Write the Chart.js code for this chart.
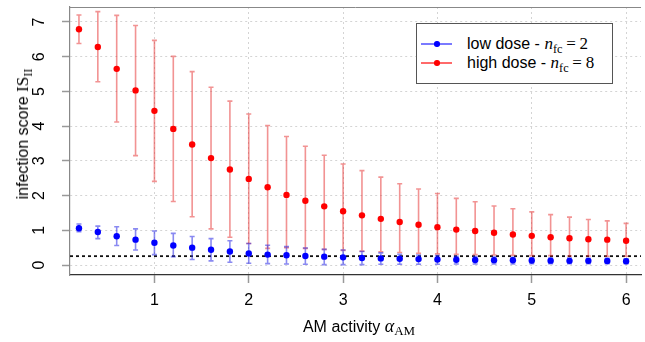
<!DOCTYPE html>
<html>
<head>
<meta charset="utf-8">
<script src="https://cdn.jsdelivr.net/npm/chart.js@4.4.1/dist/chart.umd.min.js"></script>
<style>
  body { margin: 0; background: #fff; }
  #wrap { position: relative; width: 645px; height: 342px; font-family: "Liberation Sans", Arial, sans-serif; color: #000; overflow: hidden; }
  #wrap canvas { position: absolute; left: 0; top: 0; }
  .m { font-family: "Liberation Serif", "DejaVu Serif", serif; }
  sub { font-size: 72%; vertical-align: -0.3em; line-height: 0; }
  .eq { padding: 0 0.22em; }
  #ytitle { position: absolute; left: 22.5px; top: 133.5px; font-size: 16px; white-space: nowrap; transform: translate(-50%, -50%) rotate(-90deg); }
  #ytitle .m { font-size: 17px; }
  #xtitle { position: absolute; left: 359px; top: 326px; font-size: 16px; white-space: nowrap; transform: translate(-50%, -50%); }
  #xtitle .m { font-size: 18px; }
  #legend { position: absolute; left: 416px; top: 23px; width: 195px; height: 59px; border: 1px solid #555; background: #fff; font-size: 16px; }
  #legend .m { font-size: 17px; }
  .row { position: absolute; left: 0; width: 100%; height: 18px; line-height: 18px; }
  .swatch { position: absolute; left: 4px; top: 8px; width: 31px; height: 1.5px; }
  .dot { position: absolute; left: 13px; top: -2px; width: 5.5px; height: 5.5px; border-radius: 50%; }
  .txt { position: absolute; left: 50px; top: 0; white-space: nowrap; }
</style>
</head>
<body>
<div id="wrap">
  <canvas id="grafico" width="645" height="342"></canvas>
  <div id="ytitle">infection score <span class="m">IS<sub>II</sub></span></div>
  <div id="xtitle">AM activity <span class="m"><i>α</i><sub>AM</sub></span></div>
  <div id="legend"></div>
</div>
<script>
// valores
const atividade = [0.2, 0.4, 0.6, 0.8, 1.0, 1.2, 1.4, 1.6, 1.8, 2.0, 2.2, 2.4, 2.6, 2.8, 3.0,
                   3.2, 3.4, 3.6, 3.8, 4.0, 4.2, 4.4, 4.6, 4.8, 5.0, 5.2, 5.4, 5.6, 5.8, 6.0];

const baixaMedia = [1.06, 0.95, 0.83, 0.73, 0.64, 0.56, 0.50, 0.44, 0.39, 0.33, 0.30, 0.28, 0.26, 0.24, 0.22,
                    0.20, 0.19, 0.18, 0.17, 0.16, 0.15, 0.145, 0.14, 0.135, 0.13, 0.125, 0.12, 0.12, 0.115, 0.11];
const baixaMax = [1.18, 1.12, 1.10, 1.04, 0.98, 0.91, 0.82, 0.76, 0.70, 0.62, 0.57, 0.53, 0.49, 0.45, 0.43,
                  0.39, 0.35, 0.31, 0.29, 0.27, 0.25, 0.24, 0.23, 0.22, 0.21, 0.20, 0.20, 0.19, 0.19, 0.18];
const baixaMin = [0.96, 0.76, 0.56, 0.43, 0.30, 0.24, 0.16, 0.12, 0.08, 0.05, 0.04, 0.03, 0.02, 0.01, 0.01,
                  0.01, 0.02, 0.02, 0.02, 0.02, 0.03, 0.03, 0.03, 0.03, 0.04, 0.04, 0.04, 0.04, 0.04, 0.04];

const altaMedia = [6.79, 6.28, 5.65, 5.03, 4.44, 3.92, 3.47, 3.08, 2.75, 2.48, 2.24, 2.02, 1.85, 1.69, 1.55,
                   1.43, 1.33, 1.24, 1.16, 1.09, 1.02, 0.98, 0.93, 0.88, 0.84, 0.80, 0.77, 0.74, 0.73, 0.70];
const altaMax = [7.20, 7.30, 7.19, 6.90, 6.47, 6.01, 5.57, 5.12, 4.72, 4.35, 4.02, 3.70, 3.42, 3.16, 2.91,
                 2.72, 2.53, 2.34, 2.19, 2.06, 1.92, 1.82, 1.70, 1.62, 1.53, 1.45, 1.38, 1.31, 1.27, 1.20];
const altaMin = [6.38, 5.28, 4.12, 3.15, 2.41, 1.83, 1.39, 1.04, 0.80, 0.62, 0.48, 0.50, 0.48, 0.45, 0.42,
                 0.40, 0.38, 0.36, 0.34, 0.32, 0.31, 0.30, 0.29, 0.28, 0.27, 0.27, 0.26, 0.26, 0.25, 0.25];

const limiar = 0.255;
const nomes = ['low dose', 'high dose'];
const nfc = [2, 8];
const ticksX = [1, 2, 3, 4, 5, 6];
const ticksY = [0, 1, 2, 3, 4, 5, 6, 7];

const xMin = 0.105, xMax = 6.158;
const yMin = -0.288, yMax = 7.432;

const fonte = '"Liberation Sans", Arial, sans-serif';

function pontos(ys) {
    return atividade.map((x, i) => ({ x: x, y: ys[i] }));
}

// barras de erro desenhadas antes dos pontos de cada serie
const barrasErro = {
    id: 'barrasErro',
    beforeDatasetDraw(chart, args) {
        const ds = chart.data.datasets[args.index];
        if (!ds.erroMin) return;
        const { ctx, scales: { x, y } } = chart;
        ctx.save();
        ctx.strokeStyle = ds.erroCor;
        ctx.lineWidth = 1.6;
        ds.data.forEach((p, i) => {
            const px = x.getPixelForValue(p.x);
            const lo = y.getPixelForValue(ds.erroMin[i]);
            const hi = y.getPixelForValue(ds.erroMax[i]);
            ctx.beginPath();
            ctx.moveTo(px, lo); ctx.lineTo(px, hi);
            ctx.moveTo(px - 2.5, lo); ctx.lineTo(px + 2.5, lo);
            ctx.moveTo(px - 2.5, hi); ctx.lineTo(px + 2.5, hi);
            ctx.stroke();
        });
        ctx.restore();
    }
};

// linha de cima da moldura e rotulos do eixo y girados (como no R)
const moldura = {
    id: 'moldura',
    afterDraw(chart) {
        const { ctx, chartArea: a, scales: { y } } = chart;
        ctx.save();
        ctx.strokeStyle = '#888';
        ctx.lineWidth = 1;
        ctx.beginPath();
        ctx.moveTo(a.left, a.top + 0.5);
        ctx.lineTo(a.right, a.top + 0.5);
        ctx.stroke();

        ctx.fillStyle = '#000';
        ctx.font = '16px ' + fonte;
        ctx.textAlign = 'center';
        ctx.textBaseline = 'middle';
        y.ticks.forEach(t => {
            ctx.save();
            ctx.translate(40, y.getPixelForValue(t.value));
            ctx.rotate(-Math.PI / 2);
            ctx.fillText(String(t.value), 0, 0);
            ctx.restore();
        });
        ctx.restore();
    }
};

const grafico = new Chart(document.getElementById('grafico'), {
    type: 'scatter',
    data: {
        datasets: [
            {
                label: nomes[0],
                data: pontos(baixaMedia),
                erroMin: baixaMin,
                erroMax: baixaMax,
                erroCor: 'rgba(40, 40, 230, 0.55)',
                backgroundColor: '#0000ff',
                borderWidth: 0,
                pointRadius: 3.2
            },
            {
                label: nomes[1],
                data: pontos(altaMedia),
                erroMin: altaMin,
                erroMax: altaMax,
                erroCor: 'rgba(230, 40, 40, 0.5)',
                backgroundColor: '#ff0000',
                borderWidth: 0,
                pointRadius: 3.2
            },
            {
                type: 'line',
                label: 'limiar',
                data: [{ x: xMin, y: limiar }, { x: xMax, y: limiar }],
                borderColor: '#111',
                borderWidth: 1.8,
                borderDash: [3, 3],
                pointRadius: 0
            }
        ]
    },
    options: {
        responsive: false,
        animation: false,
        layout: { padding: { top: 7, right: 0, left: 0, bottom: 0 } },
        scales: {
            x: {
                type: 'linear',
                min: xMin,
                max: xMax,
                afterFit: (s) => { s.height = 67; },
                afterBuildTicks: (s) => { s.ticks = ticksX.map(v => ({ value: v })); },
                ticks: {
                    includeBounds: false,
                    color: '#000',
                    padding: 8,
                    font: { family: fonte, size: 16 }
                },
                grid: {
                    color: '#d4d4d4',
                    lineWidth: 1,
                    tickLength: 8,
                    tickColor: '#999',
                    tickWidth: 1.5,
                    tickBorderDash: []
                },
                border: { color: '#333', width: 1.2, dash: [2, 3] }
            },
            y: {
                min: yMin,
                max: yMax,
                afterFit: (s) => { s.width = 70; },
                afterBuildTicks: (s) => { s.ticks = ticksY.map(v => ({ value: v })); },
                ticks: {
                    display: false,
                    includeBounds: false
                },
                grid: {
                    color: '#d4d4d4',
                    lineWidth: 1,
                    tickLength: 8,
                    tickColor: '#999',
                    tickWidth: 1.5,
                    tickBorderDash: []
                },
                border: { color: '#888', width: 1.2, dash: [2, 3] }
            }
        },
        plugins: {
            legend: { display: false },
            tooltip: { enabled: false }
        }
    },
    plugins: [barrasErro, moldura]
});

// legenda em html, feita a partir das series
const legenda = document.getElementById('legend');
const coresLinha = ['#7a7aff', '#ff6a6a'];
grafico.data.datasets.slice(0, 2).forEach((ds, i) => {
    const row = document.createElement('div');
    row.className = 'row';
    row.style.top = (i === 0 ? 11 : 30) + 'px';
    row.innerHTML =
        '<div class="swatch" style="background:' + coresLinha[i] + '">' +
        '<div class="dot" style="background:' + ds.backgroundColor + '"></div></div>' +
        '<div class="txt">' + ds.label + ' - <span class="m"><i>n</i><sub>fc</sub><span class="eq">=</span>' + nfc[i] + '</span></div>';
    legenda.appendChild(row);
});
</script>
</body>
</html>
